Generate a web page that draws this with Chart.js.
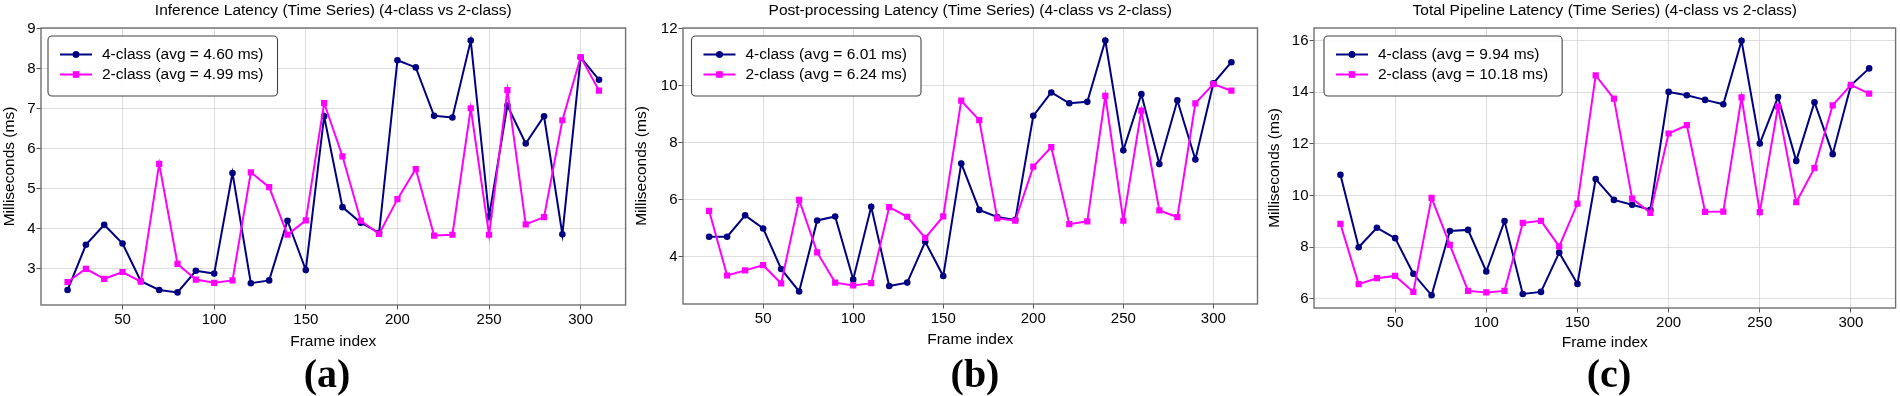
<!DOCTYPE html>
<html><head><meta charset="utf-8">
<script src="https://cdn.jsdelivr.net/npm/chart.js@4.4.0/dist/chart.umd.min.js"></script>
<style>
html,body{margin:0;padding:0;background:#fff;width:1900px;height:396px;overflow:hidden;}
canvas{position:absolute;top:0;}
</style></head><body>
<canvas id="ca"></canvas><canvas id="cb"></canvas><canvas id="cc"></canvas>
<script>
// ---------- data ----------
const frames = [20,30,40,50,60,70,80,90,100,110,120,130,140,150,160,170,180,190,200,210,220,230,240,250,260,270,280,290,300,310];
const xTicks = [50,100,150,200,250,300];

const inference4 = [2.47,3.60,4.10,3.63,2.69,2.47,2.41,2.95,2.88,5.39,2.64,2.71,4.20,2.97,6.81,4.54,4.15,3.90,8.21,8.03,6.82,6.78,8.70,4.31,7.08,6.13,6.81,3.86,8.28,7.72];
const inference2 = [2.67,3.00,2.75,2.92,2.68,5.62,3.12,2.73,2.65,2.71,5.41,5.04,3.85,4.21,7.14,5.81,4.20,3.87,4.74,5.49,3.83,3.85,7.01,3.85,7.46,4.11,4.29,6.71,8.29,7.45];

const post4 = [4.70,4.70,5.45,4.99,3.57,2.78,5.27,5.41,3.20,5.75,2.97,3.09,4.52,3.32,7.27,5.64,5.39,5.29,8.94,9.76,9.38,9.43,11.58,7.73,9.70,7.25,9.48,7.41,10.08,10.82];
const post2 = [5.61,3.34,3.52,3.70,3.06,5.99,4.15,3.09,2.99,3.07,5.74,5.40,4.66,5.41,9.47,8.79,5.34,5.26,7.16,7.84,5.14,5.24,9.64,5.26,9.12,5.62,5.39,9.38,10.05,9.82];

const total4 = [10.80,8.00,8.75,8.35,6.97,6.14,8.63,8.67,7.06,9.01,6.19,6.27,7.79,6.58,10.64,9.83,9.64,9.45,14.01,13.88,13.70,13.53,15.99,12.01,13.81,11.34,13.61,11.60,14.27,14.92];
const total2 = [8.90,6.57,6.80,6.89,6.27,9.91,8.09,6.31,6.25,6.31,8.94,9.02,8.03,9.69,14.65,13.75,9.88,9.33,12.40,12.72,9.37,9.38,13.80,9.36,13.44,9.74,11.06,13.49,14.28,13.94];

const yTicksInference = [3,4,5,6,7,8,9];
const yTicksPost = [4,6,8,10,12];
const yTicksTotal = [6,8,10,12,14,16];

const avg4 = [4.60, 6.01, 9.94];
const avg2 = [4.99, 6.24, 10.18];
const seriesNames = ['4-class','2-class'];
const panelTitles = [
  'Inference Latency (Time Series) (4-class vs 2-class)',
  'Post-processing Latency (Time Series) (4-class vs 2-class)',
  'Total Pipeline Latency (Time Series) (4-class vs 2-class)'
];
const panelLetters = ['(a)','(b)','(c)'];
const xAxisTitle = 'Frame index';
const yAxisTitle = 'Milliseconds (ms)';

// ---------- style ----------
const FONT = '"Liberation Sans", Arial, sans-serif';
const FS = 15.5;      // labels, legend, title
const FT = 15;        // tick labels
const LH = FS * 1.2;
const NAVY = '#000080', MAGENTA = '#ff00ff';

function makePanel(id, s4, s2, yTicks, idx, geo) {
  const cv = document.getElementById(id);
  cv.width = geo.cw; cv.height = 396;
  cv.style.left = geo.cx + 'px';
  cv.style.width = geo.cw + 'px'; cv.style.height = '396px';

  const all = s4.concat(s2);
  const lo = Math.min(...all), hi = Math.max(...all), m = (hi - lo) * 0.05;
  const xlo = Math.min(...frames), xhi = Math.max(...frames), xm = (xhi - xlo) * 0.05;
  const xLabelBottom = geo.xlabY + LH / 2;
  const legendLabels = [
    `${seriesNames[0]} (avg = ${avg4[idx].toFixed(2)} ms)`,
    `${seriesNames[1]} (avg = ${avg2[idx].toFixed(2)} ms)`
  ];

  const decor = {
    id: 'decor' + idx,
    afterDatasetsDraw(chart) {
      const ctx = chart.ctx, ca = chart.chartArea;
      ctx.save();
      // frame
      ctx.strokeStyle = '#707070'; ctx.lineWidth = 1.4;
      ctx.strokeRect(ca.left, ca.top, ca.right - ca.left, ca.bottom - ca.top);
      // title
      ctx.fillStyle = '#000';
      ctx.font = `${FS}px ${FONT}`;
      ctx.textAlign = 'center'; ctx.textBaseline = 'alphabetic';
      ctx.fillText(panelTitles[idx], (ca.left + ca.right) / 2, 15);
      // panel letter
      ctx.font = `bold 40px "Liberation Serif", "Times New Roman", serif`;
      ctx.fillText(panelLetters[idx], geo.letterX - geo.cx, 387);
      // legend
      ctx.font = `${FS}px ${FONT}`;
      const d = geo.legDx;
      const boxX = ca.left + 7 + d, boxY = 36, boxH = 60;
      const sx0 = ca.left + 19 + d, sx1 = ca.left + 51 + d, tx = ca.left + 61 + d;
      const rows = [54.5, 74.5];
      const w = Math.max(...legendLabels.map(t => ctx.measureText(t).width));
      const boxW = tx - boxX + w + 14;
      ctx.beginPath();
      ctx.roundRect(boxX, boxY, boxW, boxH, 4);
      ctx.fillStyle = 'rgba(255,255,255,0.9)'; ctx.fill();
      ctx.strokeStyle = '#444'; ctx.lineWidth = 1.1; ctx.stroke();
      chart.data.datasets.forEach((ds, i) => {
        const y = rows[i];
        ctx.strokeStyle = ds.borderColor; ctx.lineWidth = 2;
        ctx.beginPath(); ctx.moveTo(sx0, y); ctx.lineTo(sx1, y); ctx.stroke();
        ctx.fillStyle = ds.borderColor;
        ctx.beginPath();
        Chart.helpers.drawPoint(ctx, {pointStyle: ds.pointStyle, rotation: 0, borderWidth: 0, radius: ds.pointRadius}, (sx0 + sx1) / 2, y);
        ctx.fill();
        ctx.fillStyle = '#000'; ctx.textAlign = 'left'; ctx.textBaseline = 'middle';
        ctx.fillText(legendLabels[i], tx, y + 0.5);
      });
      ctx.restore();
    }
  };

  const gridCommon = {
    color: '#d4d4d4', lineWidth: 0.8, borderDash: [2, 2],
    tickColor: '#555', tickWidth: 1, tickLength: 4.5, tickBorderDash: []
  };

  new Chart(cv, {
    type: 'line',
    data: {
      datasets: [
        {label: legendLabels[0], data: frames.map((f, i) => ({x: f, y: s4[i]})),
         borderColor: NAVY, backgroundColor: NAVY, pointBackgroundColor: NAVY,
         pointStyle: 'circle', pointRadius: 3.3, pointBorderWidth: 0, borderWidth: 2, order: 1},
        {label: legendLabels[1], data: frames.map((f, i) => ({x: f, y: s2[i]})),
         borderColor: MAGENTA, backgroundColor: MAGENTA, pointBackgroundColor: MAGENTA,
         pointStyle: 'rect', pointRadius: 4.4, pointBorderWidth: 0, borderWidth: 2, order: 0}
      ]
    },
    options: {
      responsive: false, animation: false, devicePixelRatio: 1,
      events: [],
      layout: {padding: {left: 0, top: geo.frameT, right: geo.cx + geo.cw - geo.frameR, bottom: 396 - xLabelBottom}},
      plugins: {legend: {display: false}, tooltip: {enabled: false}, title: {display: false}},
      scales: {
        x: {
          type: 'linear', min: xlo - xm, max: xhi + xm,
          afterBuildTicks: s => { s.ticks = xTicks.map(v => ({value: v})); },
          afterFit: s => { s.height = xLabelBottom - geo.frameB; },
          ticks: {font: {family: FONT, size: FT}, color: '#000', padding: 1, maxRotation: 0},
          grid: gridCommon, border: {display: false},
          title: {display: true, text: xAxisTitle, font: {family: FONT, size: FS}, color: '#000', padding: 0}
        },
        y: {
          type: 'linear', min: lo - m, max: hi + m,
          afterBuildTicks: s => { s.ticks = yTicks.map(v => ({value: v})); },
          afterFit: s => { s.width = geo.frameL - geo.cx; },
          ticks: {font: {family: FONT, size: FT}, color: '#000', padding: 1},
          grid: gridCommon, border: {display: false},
          title: {display: true, text: yAxisTitle, font: {family: FONT, size: FS}, color: '#000',
                  padding: {top: geo.ylabX - geo.cx - LH / 2, bottom: 0}}
        }
      }
    },
    plugins: [decor]
  });
}

makePanel('ca', inference4, inference2, yTicksInference, 0,
  {cx: 0, cw: 630, frameL: 41, frameR: 626, frameT: 28, frameB: 305, ylabX: 10, xlabY: 341.3, letterX: 327, legDx: 0});
makePanel('cb', post4, post2, yTicksPost, 1,
  {cx: 630, cw: 632, frameL: 683, frameR: 1257.5, frameT: 28, frameB: 304, ylabX: 642, xlabY: 340, letterX: 975, legDx: 1.5});
makePanel('cc', total4, total2, yTicksTotal, 2,
  {cx: 1265, cw: 635, frameL: 1314, frameR: 1896, frameT: 28, frameB: 308, ylabX: 1275, xlabY: 342.3, letterX: 1609, legDx: 3});
</script>
</body></html>
